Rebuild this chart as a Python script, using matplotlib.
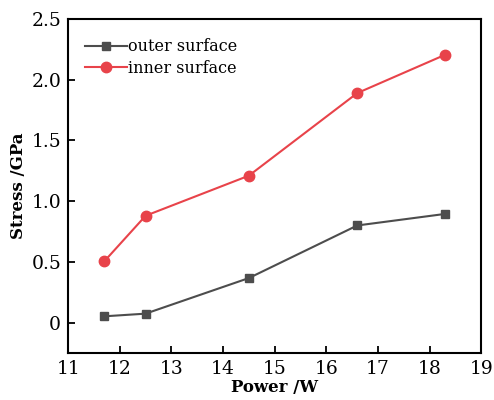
import matplotlib
matplotlib.use("Agg")
import matplotlib.pyplot as plt

power = [11.7, 12.5, 14.5, 16.6, 18.3]
outer = [0.052, 0.074, 0.367, 0.80, 0.895]
inner = [0.505, 0.88, 1.21, 1.89, 2.205]
xticks = [11, 12, 13, 14, 15, 16, 17, 18, 19]
yticks = [0, 0.5, 1.0, 1.5, 2.0, 2.5]
ytick_labels = ["0", "0.5", "1.0", "1.5", "2.0", "2.5"]

plt.rcParams['font.family'] = ['DejaVu Serif']

fig = plt.figure(figsize=(4.94, 4.0), dpi=100)
ax = fig.add_axes([0.138, 0.1175, 0.836, 0.835])

ax.plot(power, outer, color='#4d4d4d', marker='s', markersize=6, lw=1.5, label='outer surface')
ax.plot(power, inner, color='#e8434a', marker='o', markersize=7.5, lw=1.5, label='inner surface')

ax.set_xlim(11, 19)
ax.set_ylim(-0.25, 2.5)
ax.set_xticks(xticks)
ax.set_yticks(yticks)
ax.set_yticklabels(ytick_labels)
ax.tick_params(direction='in', labelsize=13.5, length=5, width=1.3, pad=5)
for s in ax.spines.values():
    s.set_linewidth(1.5)

ax.set_xlabel('Power /W', fontsize=12, fontweight='bold', labelpad=1)
ax.set_ylabel('Stress /GPa', fontsize=12, fontweight='bold', labelpad=3)

ax.legend(loc='upper left', frameon=False, fontsize=11.5, handlelength=2.6,
          handletextpad=0.1, borderaxespad=0.8, labelspacing=0.3,
          bbox_to_anchor=(-0.005, 1.0))

fig.savefig('out.png', dpi=100)
